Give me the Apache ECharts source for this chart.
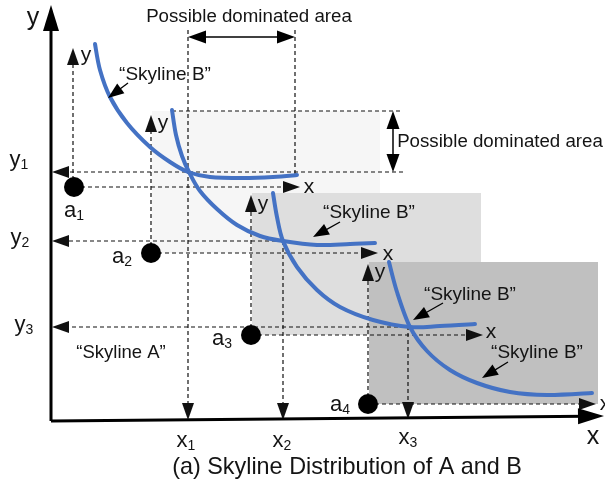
<!DOCTYPE html>
<html>
<head>
<meta charset="utf-8">
<script src="https://cdn.jsdelivr.net/npm/echarts@6/dist/echarts.min.js"></script>
<style>
  html, body { margin: 0; padding: 0; background: #ffffff; }
  #chart { width: 605px; height: 486px; }
</style>
</head>
<body>
<div id="chart"></div>
<script>
// Diagram space: origin where the main axes meet, x grows right, y grows up.

// Skyline points of A
const skylineA = [[23, 234], [100, 168], [200, 86], [317, 17]];

// Skyline B as seen from each point of A
const skylineB1 = [[44, 377], [49, 351], [59, 324], [76, 298], [99, 274], [119, 259], [137, 249], [159, 244], [192, 243], [222, 244], [246, 246]];
const skylineB2 = [[121, 311], [125, 286], [131, 265], [138, 249], [149, 230], [166, 212], [186, 196], [209, 185], [232, 180], [266, 176], [299, 177], [324, 178]];
const skylineB3 = [[222, 228], [226, 204], [232, 180], [246, 154], [266, 131], [289, 114], [322, 101], [359, 94], [389, 95], [424, 97]];
const skylineB4 = [[338, 159], [346, 129], [359, 94], [376, 70], [399, 51], [426, 38], [459, 29], [496, 26], [541, 28]];
const skylineCurves = [skylineB1, skylineB2, skylineB3, skylineB4];

// Candidate regions [x0, y0, x1, y1]
const regions = [[101, 168, 329, 310], [201, 86, 430, 228], [318, 17, 547, 159]];
const regionFills = ['#f6f6f6', '#dedede', '#c0c0c0'];

// Dashed guides ending in an arrowhead [x0, y0, x1, y1]
const guides = [
  [22, 234, 22, 373], [23, 234, 249, 234],
  [100, 168, 100, 306], [100, 168, 327, 168],
  [200, 86, 200, 226], [200, 86, 432, 86],
  [317, 17, 317, 157], [317, 17, 545, 17],
  [137, 391, 137, 1], [232, 180, 232, 1], [357, 95, 357, 2],
  [352, 249, 1, 249], [232, 180, 1, 180], [361, 94, 1, 94]
];
// Dashed guides without arrowheads
const plainGuides = [[244, 391, 244, 245], [121, 310, 352, 310]];
// Double-headed spans
const spans = [[137, 384, 244, 384], [342, 310, 342, 249]];
// Callout pointers from label to curve
const callouts = [[77, 338, 57, 323], [289, 199, 262, 184], [392, 118, 362, 101], [457, 59, 431, 43]];
// Main axes
const mainAxes = [[0, 0, 0, 416], [0, 0, 553, 5]];

// Text labels [x, y, text, subscript]
const axisNames = [[-18, 403, 'y', ''], [542, -16, 'x', '']];
const axisMarks = [
  [-32, 261, 'y', '1'], [-31, 183, 'y', '2'], [-27, 96, 'y', '3'],
  [135, -20, 'x', '1'], [231, -20, 'x', '2'], [357, -17, 'x', '3']
];
const pointLabels = [[23, 210, 'a', '1'], [71, 164, 'a', '2'], [171, 82, 'a', '3'], [289, 16, 'a', '4']];
const localAxisLabels = [
  [35, 366, 'y', ''], [258, 234, 'x', ''],
  [112, 298, 'y', ''], [337, 167, 'x', ''],
  [212, 217, 'y', ''], [440, 89, 'x', ''],
  [329, 149, 'y', ''], [554, 17, 'x', '']
];
const skylineBLabels = [[114, 346, '“Skyline B”'], [318, 208, '“Skyline B”'], [419, 126, '“Skyline B”'], [486, 68, '“Skyline B”']];
const skylineALabel = [[70, 68, '“Skyline A”']];
const areaLabels = [[198, 404, 'Possible dominated area'], [449, 279, 'Possible dominated area']];
const caption = [[296, -47, '(a) Skyline Distribution of A and B']];

const FONT = '"Liberation Sans", Arial, Helvetica, sans-serif';
const INK = '#141414';
const BLUE = '#4472c4';

function segmentSeries(data, opt) {
  return {
    type: 'custom',
    silent: true,
    clip: false,
    z: opt.z,
    encode: { x: [0, 2], y: [1, 3] },
    data: data,
    renderItem: function (params, api) {
      const a = api.coord([api.value(0), api.value(1)]);
      const b = api.coord([api.value(2), api.value(3)]);
      const dx = b[0] - a[0], dy = b[1] - a[1];
      const len = Math.hypot(dx, dy) || 1;
      const ux = dx / len, uy = dy / len;
      let s = a.slice(), e = b.slice();
      const children = [];
      function head(tip, vx, vy) {
        const bx = tip[0] - vx * opt.headLen, by = tip[1] - vy * opt.headLen;
        const hw = opt.headWidth / 2;
        return {
          type: 'polygon',
          shape: { points: [tip, [bx - vy * hw, by + vx * hw], [bx + vy * hw, by - vx * hw]] },
          style: { fill: opt.color, stroke: null }
        };
      }
      if (opt.headEnd) {
        children.push(head(b, ux, uy));
        e = [b[0] - ux * opt.headLen * 0.7, b[1] - uy * opt.headLen * 0.7];
      }
      if (opt.headStart) {
        children.push(head(a, -ux, -uy));
        s = [a[0] + ux * opt.headLen * 0.7, a[1] + uy * opt.headLen * 0.7];
      }
      children.unshift({
        type: 'line',
        shape: { x1: s[0], y1: s[1], x2: e[0], y2: e[1] },
        style: { stroke: opt.color, lineWidth: opt.width, lineDash: opt.dash || null, fill: null }
      });
      return { type: 'group', children: children };
    }
  };
}

// Each skyline curve is a Catmull-Rom spline through its points, mapped by the axes.
const curveSeries = {
  type: 'custom',
  silent: true,
  clip: false,
  z: 5,
  data: skylineCurves.map(function (c, i) { return [c[0][0], c[0][1], i]; }),
  renderItem: function (params, api) {
    const pts = skylineCurves[params.dataIndex].map(function (p) { return api.coord(p); });
    let d = 'M' + pts[0][0] + ',' + pts[0][1];
    for (let i = 0; i < pts.length - 1; i++) {
      const p0 = pts[Math.max(i - 1, 0)], p1 = pts[i], p2 = pts[i + 1], p3 = pts[Math.min(i + 2, pts.length - 1)];
      const c1 = [p1[0] + (p2[0] - p0[0]) / 6, p1[1] + (p2[1] - p0[1]) / 6];
      const c2 = [p2[0] - (p3[0] - p1[0]) / 6, p2[1] - (p3[1] - p1[1]) / 6];
      d += 'C' + c1[0] + ',' + c1[1] + ',' + c2[0] + ',' + c2[1] + ',' + p2[0] + ',' + p2[1];
    }
    return {
      type: 'path',
      shape: { pathData: d },
      style: { stroke: BLUE, lineWidth: 4, fill: null, lineCap: 'round', lineJoin: 'round' }
    };
  }
};

function textSeries(data, size, subSize) {
  return {
    type: 'scatter',
    silent: true,
    symbolSize: 0,
    z: 8,
    itemStyle: { opacity: 1 },
    data: data.map(function (d) { return { value: [d[0], d[1]], txt: d[2], sub: d[3] || '' }; }),
    label: {
      show: true,
      position: 'inside',
      color: INK,
      opacity: 1,
      fontFamily: FONT,
      formatter: function (p) {
        return p.data.sub ? '{m|' + p.data.txt + '}{s|' + p.data.sub + '}' : '{m|' + p.data.txt + '}';
      },
      rich: {
        m: { fontSize: size, fontFamily: FONT, color: INK },
        s: { fontSize: subSize, fontFamily: FONT, color: INK, padding: [Math.round(subSize * 0.8), 0, 0, 0] }
      }
    }
  };
}

const chart = echarts.init(document.getElementById('chart'), null, { renderer: 'canvas' });
chart.setOption({
  animation: false,
  backgroundColor: '#ffffff',
  grid: { left: 0, right: 0, top: 0, bottom: 0 },
  xAxis: { type: 'value', min: -51, max: 554, show: false },
  yAxis: { type: 'value', min: -65, max: 421, show: false },
  series: [
    {
      type: 'custom',
      silent: true,
      clip: false,
      z: 1,
      encode: { x: [0, 2], y: [1, 3] },
      data: regions,
      renderItem: function (params, api) {
        const p0 = api.coord([api.value(0), api.value(1)]);
        const p1 = api.coord([api.value(2), api.value(3)]);
        return {
          type: 'rect',
          shape: {
            x: Math.min(p0[0], p1[0]), y: Math.min(p0[1], p1[1]),
            width: Math.abs(p1[0] - p0[0]), height: Math.abs(p1[1] - p0[1])
          },
          style: { fill: regionFills[params.dataIndex] }
        };
      }
    },
    segmentSeries(guides, { z: 3, color: '#111', width: 1.2, dash: [4, 3], headEnd: true, headLen: 17, headWidth: 12 }),
    segmentSeries(plainGuides, { z: 3, color: '#111', width: 1.2, dash: [4, 3] }),
    segmentSeries(spans, { z: 3, color: '#000', width: 1.5, headStart: true, headEnd: true, headLen: 18, headWidth: 13 }),
    segmentSeries(callouts, { z: 6, color: '#000', width: 1.3, headEnd: true, headLen: 16, headWidth: 12 }),
    segmentSeries(mainAxes, { z: 4, color: '#000', width: 3, headEnd: true, headLen: 26, headWidth: 16 }),
    curveSeries,
    {
      type: 'scatter',
      silent: true,
      z: 7,
      symbolSize: 20,
      itemStyle: { color: '#000', opacity: 1 },
      data: skylineA
    },
    textSeries(axisNames, 25, 15),
    textSeries(axisMarks, 22, 14),
    textSeries(pointLabels, 22, 14),
    textSeries(localAxisLabels, 21, 13),
    textSeries(skylineBLabels, 19, 12),
    textSeries(skylineALabel, 18.5, 12),
    textSeries(areaLabels, 18.7, 12),
    textSeries(caption, 23.4, 14)
  ]
});
</script>
</body>
</html>
